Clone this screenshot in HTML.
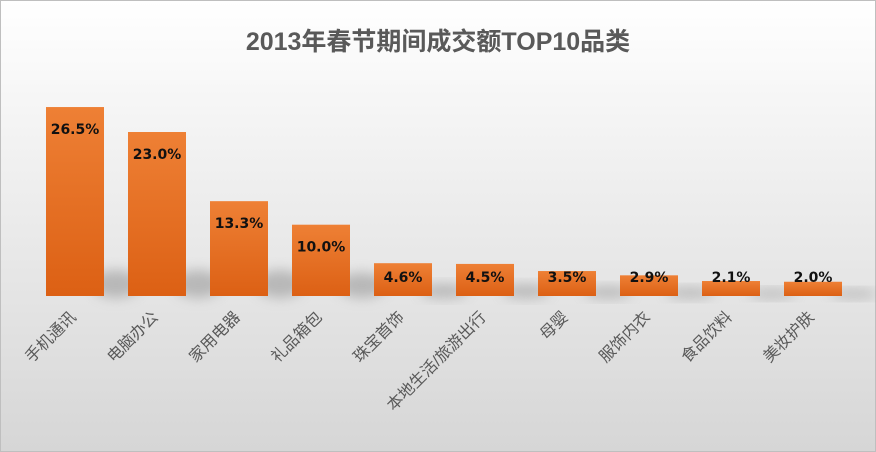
<!DOCTYPE html>
<html><head><meta charset="utf-8">
<style>
body{margin:0;width:876px;height:452px;overflow:hidden;}
svg{display:block;font-family:"Liberation Sans","Noto Sans CJK SC",sans-serif;}
</style></head>
<body>
<svg id="chart" width="876" height="452">
<defs>
<linearGradient id="bg" x1="0" y1="0" x2="0" y2="1">
<stop offset="0" stop-color="#ffffff"/><stop offset="1" stop-color="#d6d6d6"/></linearGradient>
<linearGradient id="bar" x1="0" y1="0" x2="0" y2="1">
<stop offset="0" stop-color="#ee8035"/><stop offset="1" stop-color="#dc6014"/></linearGradient>
<filter id="sh" x="-50%" y="-50%" width="200%" height="200%"><feGaussianBlur stdDeviation="6"/></filter>
</defs>
<rect x="0.5" y="0.5" width="875" height="451" fill="url(#bg)" stroke="#bfbfbf"/>
<text x="438" y="50" text-anchor="middle" font-size="25" font-weight="bold" fill="#595959">2013年春节期间成交额TOP10品类</text>
<g id="shadows"></g>
<g id="bars"></g>
</svg>
<script>
const categories=["手机通讯","电脑办公","家用电器","礼品箱包","珠宝首饰","本地生活/旅游出行","母婴","服饰内衣","食品饮料","美妆护肤"];
const values=[26.5,23.0,13.3,10.0,4.6,4.5,3.5,2.9,2.1,2.0];
const labels=["26.5%","23.0%","13.3%","10.0%","4.6%","4.5%","3.5%","2.9%","2.1%","2.0%"];
const NS="http://www.w3.org/2000/svg";
const baseY=296, pxPer=7.13, x0=46, step=82, bw=58;
const xPos=i=>x0+i*step;
const yPos=v=>baseY-v*pxPer;
const g=document.getElementById('bars'), sg=document.getElementById('shadows');
values.forEach((v,i)=>{
 const x=xPos(i), y=yPos(v);
 const s=document.createElementNS(NS,'ellipse');
 s.setAttribute('cx',x+bw+12);s.setAttribute('cy',baseY-Math.min(v*pxPer*0.15,12));
 s.setAttribute('rx',24);s.setAttribute('ry',Math.min(v*pxPer*0.15,12)+2);
 s.setAttribute('fill','#9a9a9a');s.setAttribute('opacity','0.6');s.setAttribute('filter','url(#sh)');
 
 
 sg.appendChild(s);
 const r=document.createElementNS(NS,'rect');
 r.setAttribute('x',x);r.setAttribute('y',y);r.setAttribute('width',bw);r.setAttribute('height',baseY-y);
 r.setAttribute('fill','url(#bar)');
 
 
 g.appendChild(r);
 const t=document.createElementNS(NS,'text');
 t.setAttribute('x',x+bw/2);t.setAttribute('y',Math.min(y+27,282));t.setAttribute('text-anchor','middle');
 t.setAttribute('font-family','"DejaVu Sans",sans-serif');
 t.setAttribute('font-size','14');t.setAttribute('font-weight','bold');t.setAttribute('fill','#111');
 t.textContent=labels[i];
 
 
 g.appendChild(t);
 const c=document.createElementNS(NS,'text');
 const cx=x+bw/2+2, cy=baseY+22;
 c.setAttribute('x',cx);c.setAttribute('y',cy);c.setAttribute('text-anchor','end');
 c.setAttribute('font-size','16');c.setAttribute('fill','#595959');
 c.setAttribute('transform','rotate(-45 '+cx+' '+cy+')');
 c.textContent=categories[i];
 
 
 g.appendChild(c);
});
</script>
</body></html>
